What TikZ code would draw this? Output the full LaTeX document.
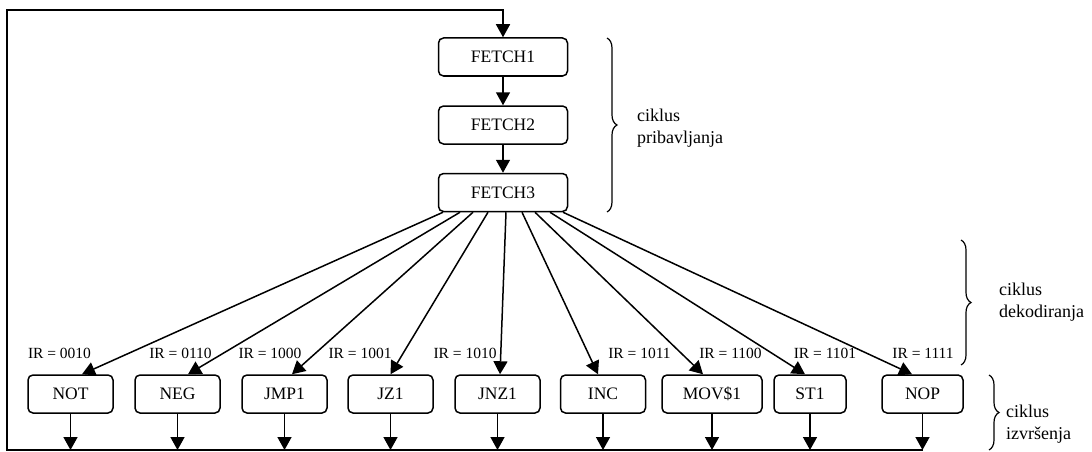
\documentclass[tikz,border=0pt]{standalone}
\usepackage{fontspec}
\setmainfont{Liberation Serif}
\usetikzlibrary{arrows.meta,decorations.pathreplacing,calc}
\begin{document}
\begin{tikzpicture}[x=1pt,y=-1pt,
  box/.style={draw, rounded corners=5pt, line width=1.5pt, minimum height=38pt, inner sep=0pt,
    font=\fontsize{17.5}{21}\selectfont},
  arr/.style={line width=1.5pt, -{Triangle[length=13pt,width=14pt]}},
  lab/.style={font=\fontsize{15.5}{18}\selectfont, inner sep=0pt},
  brc/.style={line width=1.2pt, decorate, decoration={brace, amplitude=10pt}},
  btxt/.style={font=\fontsize{18}{22}\selectfont, align=left, anchor=west, inner sep=0pt}]
\useasboundingbox (0,0) rectangle (1092,452);
% fetch
\node[box, minimum width=129pt] (f1) at (503,57) {FETCH1};
\node[box, minimum width=129pt] (f2) at (503,125) {FETCH2};
\node[box, minimum width=129pt] (f3) at (503,192.5) {FETCH3};
% execute boxes
\node[box, minimum width=85pt] (not) at (70.5,394) {NOT};
\node[box, minimum width=85pt] (neg) at (177.5,394) {NEG};
\node[box, minimum width=85pt] (jmp) at (284.5,394) {JMP1};
\node[box, minimum width=85pt] (jz) at (390.5,394) {JZ1};
\node[box, minimum width=85pt] (jnz) at (497.5,394) {JNZ1};
\node[box, minimum width=85pt] (inc) at (603,394) {INC};
\node[box, minimum width=100pt] (mov) at (712,394) {MOV\$1};
\node[box, minimum width=72pt] (st) at (810,394) {ST1};
\node[box, minimum width=81pt] (nop) at (922.5,394) {NOP};
% labels
\node[lab] (l1) at (59.5,353) {IR = 0010};
\node[lab] (l2) at (180.5,353) {IR = 0110};
\node[lab] (l3) at (270,353) {IR = 1000};
\node[lab] (l4) at (360,353) {IR = 1001};
\node[lab] (l5) at (465,353) {IR = 1010};
\node[lab] (l6) at (639.5,353) {IR = 1011};
\node[lab] (l7) at (730.5,353) {IR = 1100};
\node[lab] (l8) at (825,353) {IR = 1101};
\node[lab] (l9) at (923,353) {IR = 1111};
% fetch chain
\draw[arr] (f1) -- (f2);
\draw[arr] (f2) -- (f3);
% fan
\draw[arr] ([xshift=-60pt]f3.south) -- ([xshift=11.5pt]not.north);
\draw[arr] ([xshift=-43pt]f3.south) -- ([xshift=10.5pt]neg.north);
\draw[arr] ([xshift=-30pt]f3.south) -- ([xshift=7.5pt]jmp.north);
\draw[arr] ([xshift=-15pt]f3.south) -- ([xshift=0pt]jz.north);
\draw[arr] ([xshift=3pt]f3.south) -- ([xshift=2.5pt]jnz.north);
\draw[arr] ([xshift=19pt]f3.south) -- ([xshift=-5pt]inc.north);
\draw[arr] ([xshift=32pt]f3.south) -- ([xshift=-9pt]mov.north);
\draw[arr] ([xshift=47pt]f3.south) -- ([xshift=-5pt]st.north);
\draw[arr] ([xshift=60pt]f3.south) -- ([xshift=-10.5pt]nop.north);
% loop
\coordinate (bl) at (7,450);
\coordinate (tl) at (7,10);
\foreach \n in {not,neg,jmp,jz,jnz,inc,mov,st,nop}
  \draw[arr] (\n.south) -- (\n.south |- bl);
\draw[arr] (nop.south |- bl) -- (bl) -- (tl) -| (f1.north);
% braces
\draw[brc] (607,38) -- (607,212);
\node[btxt] (t1) at (637,128) {ciklus\\pribavljanja};
\draw[brc] (961,240) -- (961,365);
\node[btxt] (t2) at (999,302) {ciklus\\dekodiranja};
\draw[brc] (989,375) -- (989,450);
\node[btxt] (t3) at (1006,424) {ciklus\\izvršenja};
\end{tikzpicture}
\end{document}
